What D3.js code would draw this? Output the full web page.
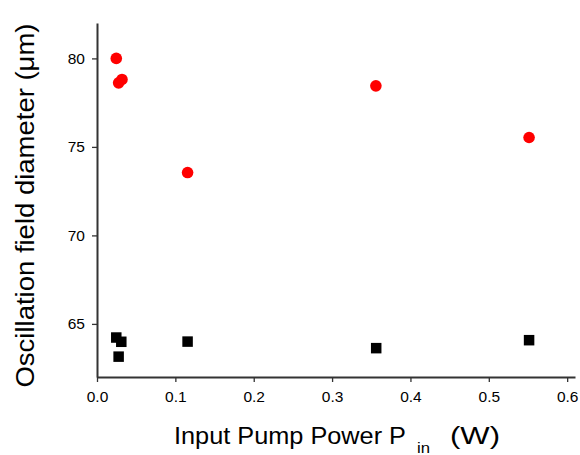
<!DOCTYPE html>
<html>
<head>
<meta charset="utf-8">
<script src="https://cdn.jsdelivr.net/npm/d3@7"></script>
<style>
  body { margin: 0; background: #fff; }
  text { font-family: "Liberation Sans", Arial, sans-serif; }
</style>
</head>
<body>
<div id="chart"></div>
<script>
// data
const circlePower = [0.0246, 0.0276, 0.0319, 0.1156, 0.3559, 0.5514]
const circleDiam = [80.0, 78.62, 78.81, 73.55, 78.45, 75.53]
const squarePower = [0.0246, 0.031, 0.0276, 0.1156, 0.3563, 0.5514]
const squareDiam = [64.23, 63.99, 63.15, 64.0, 63.63, 64.08]
const xTicks = [0, 0.1, 0.2, 0.3, 0.4, 0.5, 0.6]
const yTicks = [65, 70, 75, 80]

let width = 580
let height = 455
let margin = { left: 97, right: 5, top: 23, bottom: 78 }

let svg = d3.select("#chart").append("svg")
    .attr("width", width)
    .attr("height", height)

// 比例尺
let xScale = d3.scaleLinear()
    .domain([0, 0.61])
    .range([margin.left, width - margin.right])
let yScale = d3.scaleLinear()
    .domain([62, 82])
    .range([height - margin.bottom, margin.top])

// 坐标轴
let xAxis = svg.append("g")
    .attr("transform", "translate(0," + (height - margin.bottom) + ")")
    .call(d3.axisBottom(xScale).tickValues(xTicks).tickFormat(d3.format(".1f"))
        .tickSize(5).tickSizeOuter(0).tickPadding(9))
let yAxis = svg.append("g")
    .attr("transform", "translate(" + margin.left + ",0)")
    .call(d3.axisLeft(yScale).tickValues(yTicks).tickSize(5).tickSizeOuter(0).tickPadding(7))

svg.selectAll(".domain").attr("stroke", "#333").attr("stroke-width", 2)
svg.selectAll(".tick line").attr("stroke", "#333").attr("stroke-width", 1.3)
svg.selectAll(".tick text")
    .attr("fill", "#000")
    .style("font-size", "15.5px")
    .style("font-family", "'Liberation Sans', Arial, sans-serif")

// 坐标轴标题
svg.append("text")
    .attr("x", 174)
    .attr("y", 444)
    .attr("textLength", 232)
    .attr("lengthAdjust", "spacingAndGlyphs")
    .style("font-size", "23px")
    .text("Input Pump Power P")
svg.append("text")
    .attr("x", 417)
    .attr("y", 453)
    .attr("textLength", 13)
    .attr("lengthAdjust", "spacingAndGlyphs")
    .style("font-size", "15px")
    .text("in")
svg.append("text")
    .attr("x", 450)
    .attr("y", 444)
    .attr("textLength", 50)
    .attr("lengthAdjust", "spacingAndGlyphs")
    .style("font-size", "23px")
    .text("(W)")

svg.append("text")
    .attr("transform", "translate(33.5,205.5) rotate(-90)")
    .attr("text-anchor", "middle")
    .attr("textLength", 364)
    .attr("lengthAdjust", "spacingAndGlyphs")
    .style("font-size", "26px")
    .text("Oscillation field diameter (\u03bcm)")

// 绘制数据
let sq = 10.5
svg.selectAll(".sq")
    .data(squarePower.map((p, i) => [p, squareDiam[i]]))
    .enter()
    .append("rect")
    .attr("class", "sq")
    .attr("x", d => xScale(d[0]) - sq / 2)
    .attr("y", d => yScale(d[1]) - sq / 2)
    .attr("width", sq)
    .attr("height", sq)
    .attr("fill", "#000")

svg.selectAll(".dot")
    .data(circlePower.map((p, i) => [p, circleDiam[i]]))
    .enter()
    .append("circle")
    .attr("class", "dot")
    .attr("cx", d => xScale(d[0]))
    .attr("cy", d => yScale(d[1]))
    .attr("r", 5.8)
    .attr("fill", "#ff0000")
</script>
</body>
</html>
